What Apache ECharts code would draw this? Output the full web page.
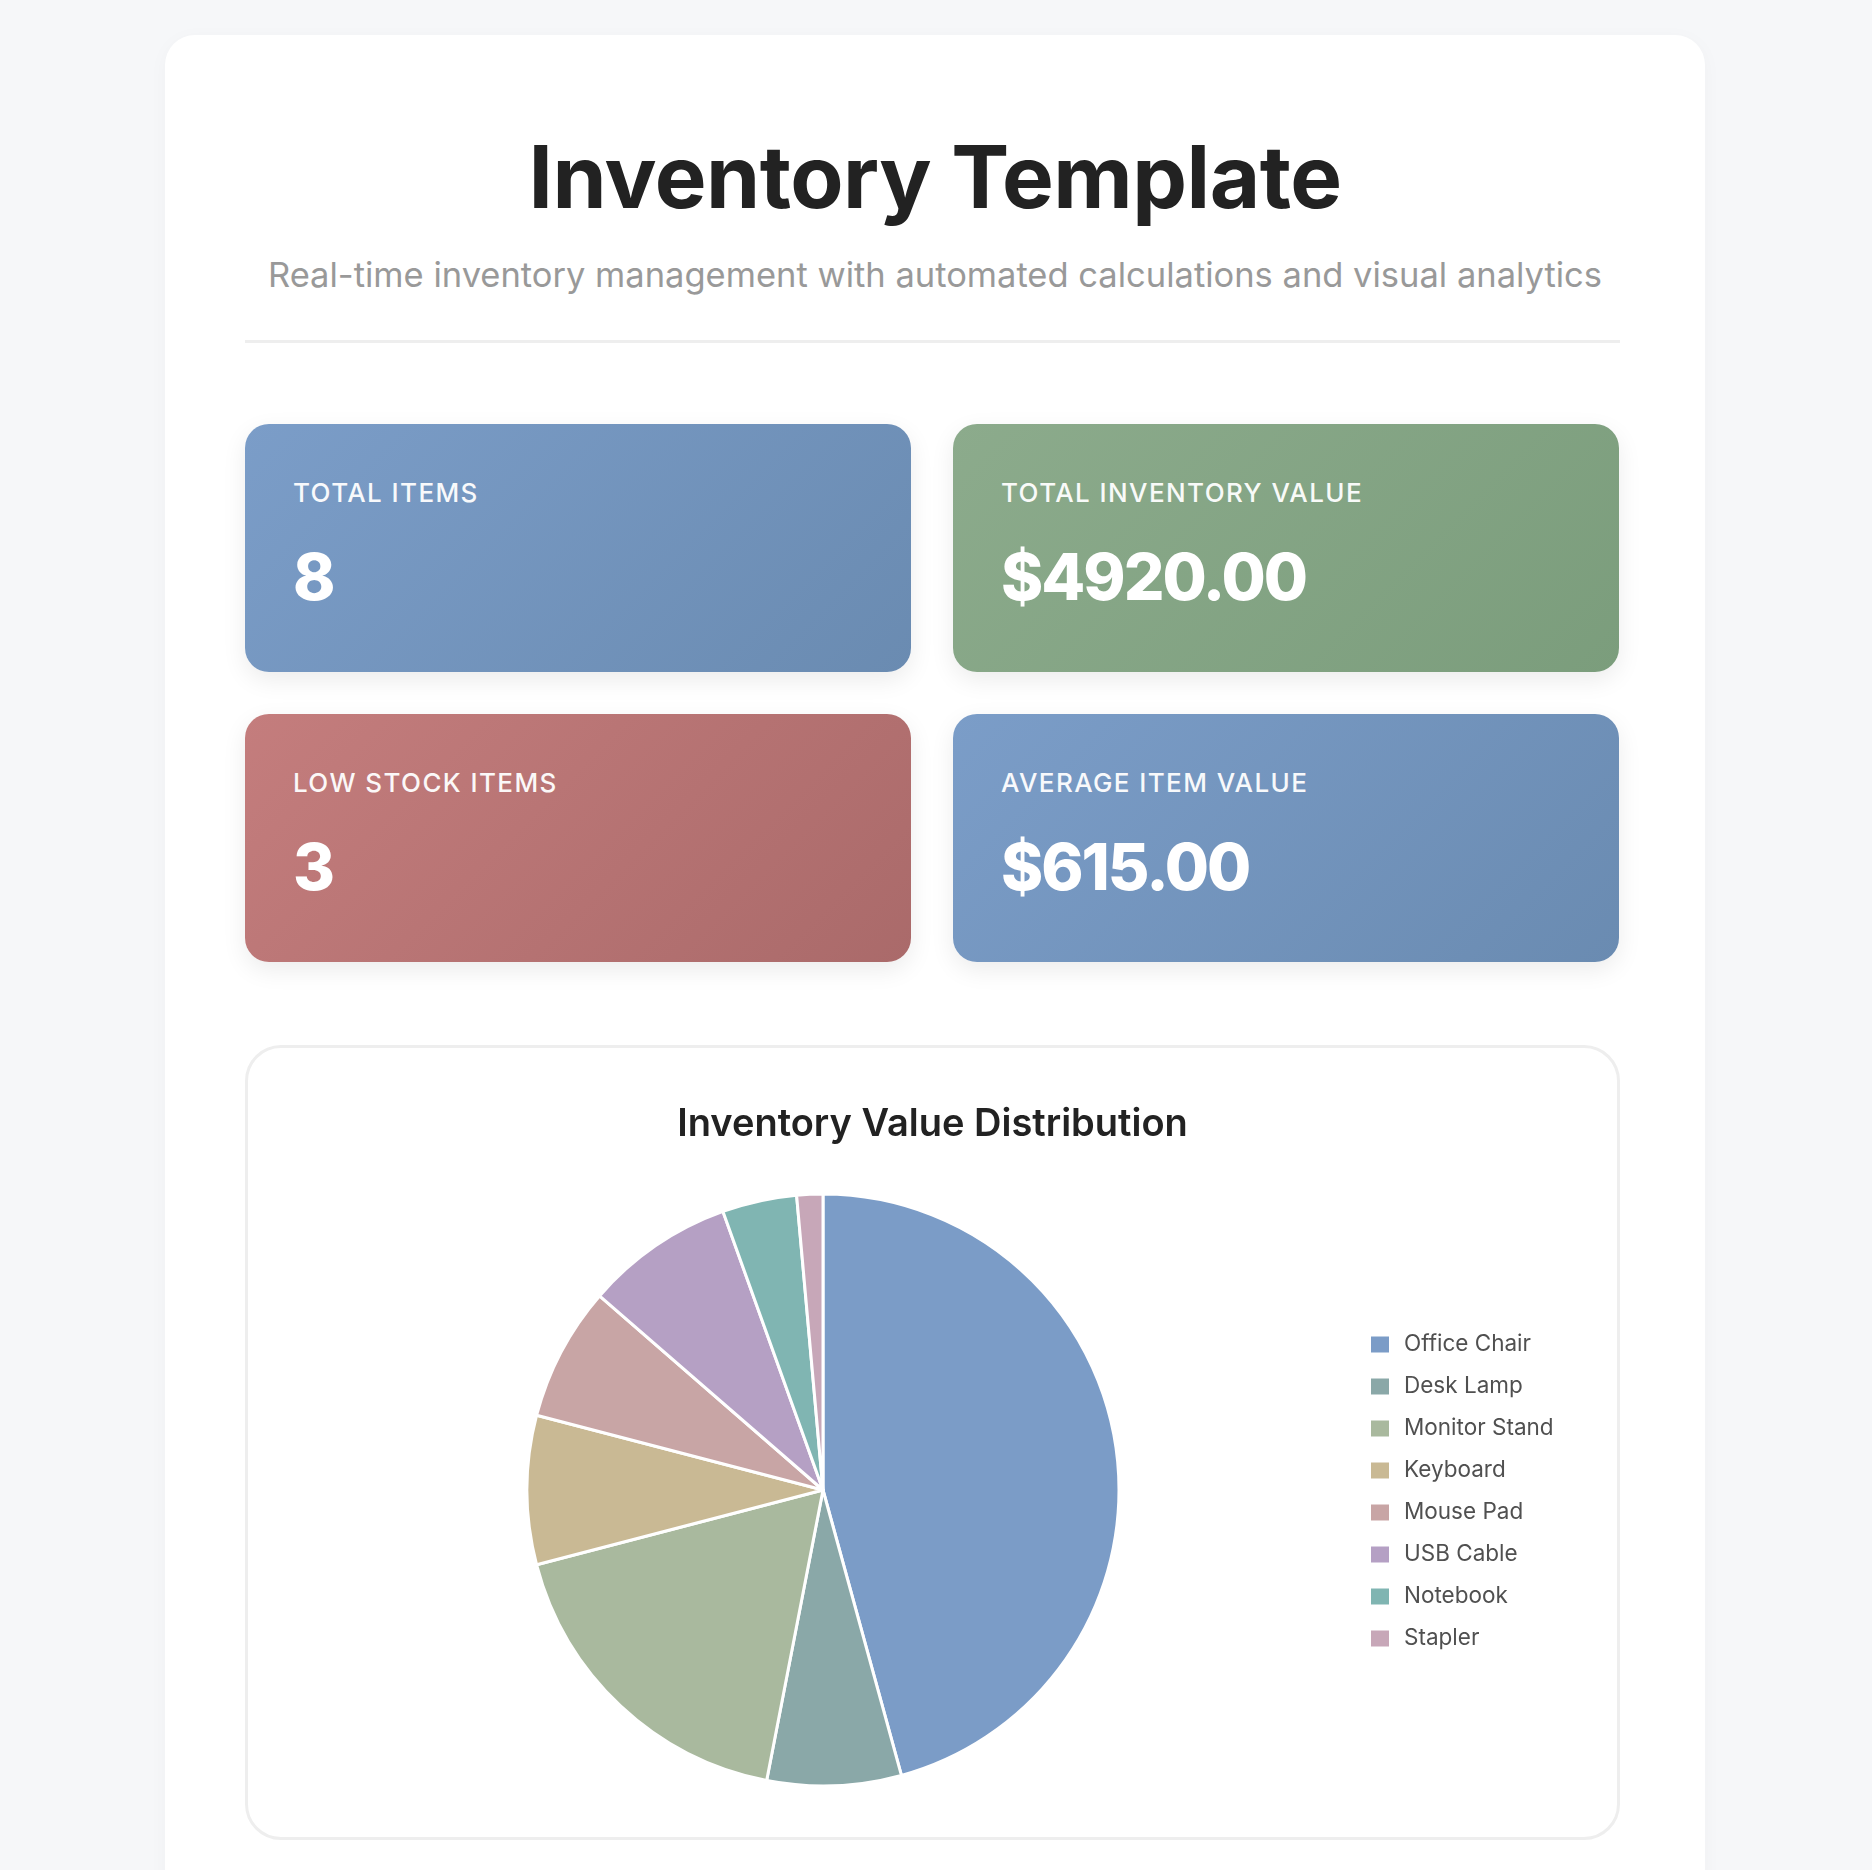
<!DOCTYPE html>
<html>
<head>
<meta charset="utf-8">
<script src="https://cdn.jsdelivr.net/npm/echarts@6/dist/echarts.min.js"></script>
<style>
  html, body { margin: 0; padding: 0; }
  body { width: 1872px; height: 1870px; background: #f6f7f9; position: relative; overflow: hidden; font-family: Inter, "Noto Sans", sans-serif; }
  .container { position: absolute; left: 165px; top: 35px; width: 1540px; height: 1900px; background: #fff; border-radius: 30px; box-shadow: 0 4px 20px rgba(0,0,0,0.03); }
  .title { position: absolute; left: 165px; width: 1540px; top: 133px; text-align: center; font-size: 87px; line-height: 87px; font-weight: 700; color: #222; letter-spacing: -0.5px; }
  .subtitle { position: absolute; left: 165px; width: 1540px; top: 258px; text-align: center; font-size: 34.5px; line-height: 34px; font-weight: 400; color: #999; }
  .divider { position: absolute; left: 245px; width: 1375px; top: 340px; height: 3px; background: #eee; }
  .card { position: absolute; width: 666px; height: 248px; border-radius: 24px; color: #fff; box-shadow: 0 8px 24px rgba(0,0,0,0.08); }
  .card .label { position: absolute; left: 48px; top: 56px; font-size: 26px; line-height: 26px; font-weight: 500; letter-spacing: 1.4px; opacity: 0.95; }
  .card .value { position: absolute; left: 48px; top: 121px; font-size: 64px; line-height: 64px; font-weight: 800; letter-spacing: -2px; }
  .blue { background: linear-gradient(135deg, #7b9dc8 0%, #6a8bb1 100%); }
  .green { background: linear-gradient(135deg, #8cab8c 0%, #7b9d7c 100%); }
  .red { background: linear-gradient(135deg, #c47d7d 0%, #aa6a6a 100%); }
  .panel { position: absolute; left: 245px; top: 1045px; width: 1369px; height: 789px; border: 3px solid #eee; border-radius: 36px; background: #fff; }
  #chart { position: absolute; left: 245px; top: 1045px; width: 1375px; height: 795px; }
</style>
</head>
<body>
<div class="container"></div>
<div class="title">Inventory Template</div>
<div class="subtitle">Real-time inventory management with automated calculations and visual analytics</div>
<div class="divider"></div>

<div class="card blue" style="left:245px; top:424px;"><div class="label">TOTAL ITEMS</div><div class="value" id="v1"></div></div>
<div class="card green" style="left:953px; top:424px;"><div class="label">TOTAL INVENTORY VALUE</div><div class="value" id="v2"></div></div>
<div class="card red" style="left:245px; top:714px;"><div class="label">LOW STOCK ITEMS</div><div class="value" id="v3"></div></div>
<div class="card blue" style="left:953px; top:714px;"><div class="label">AVERAGE ITEM VALUE</div><div class="value" id="v4"></div></div>

<div class="panel"></div>
<div id="chart"></div>

<script>
// Data
const itemNames = ['Office Chair', 'Desk Lamp', 'Monitor Stand', 'Keyboard', 'Mouse Pad', 'USB Cable', 'Notebook', 'Stapler'];
const itemValues = [2250, 360, 880, 400, 360, 400, 200, 70];
const itemColors = ['#7b9cc7', '#8aa8a8', '#a9b99e', '#c9b994', '#c8a5a5', '#b5a0c4', '#80b5b2', '#c7a7b8'];
const lowStockCount = 3;

const totalValue = itemValues.reduce((a, b) => a + b, 0);
document.getElementById('v1').textContent = itemNames.length;
document.getElementById('v2').textContent = '$' + totalValue.toFixed(2);
document.getElementById('v3').textContent = lowStockCount;
document.getElementById('v4').textContent = '$' + (totalValue / itemNames.length).toFixed(2);

const chart = echarts.init(document.getElementById('chart'), null, { renderer: 'canvas' });
chart.setOption({
  animation: false,
  color: itemColors,
  title: {
    text: 'Inventory Value Distribution',
    left: 'center',
    top: 56,
    textStyle: { fontFamily: 'Inter', fontSize: 38, fontWeight: 600, color: '#222', lineHeight: 38 }
  },
  legend: {
    orient: 'vertical',
    left: 1124,
    top: 288,
    padding: 0,
    itemWidth: 20,
    itemHeight: 18,
    itemGap: 19,
    icon: 'rect',
    data: itemNames,
    textStyle: { fontFamily: 'Inter', fontSize: 22.5, color: '#505050', lineHeight: 21, padding: [0, 0, 0, 9] }
  },
  series: [{
    type: 'pie',
    center: [578, 445],
    radius: [0, 296],
    startAngle: 90,
    clockwise: true,
    label: { show: false },
    labelLine: { show: false },
    itemStyle: { borderColor: '#fff', borderWidth: 3 },
    data: itemNames.map((n, i) => ({ name: n, value: itemValues[i] }))
  }]
});
</script>
</body>
</html>
